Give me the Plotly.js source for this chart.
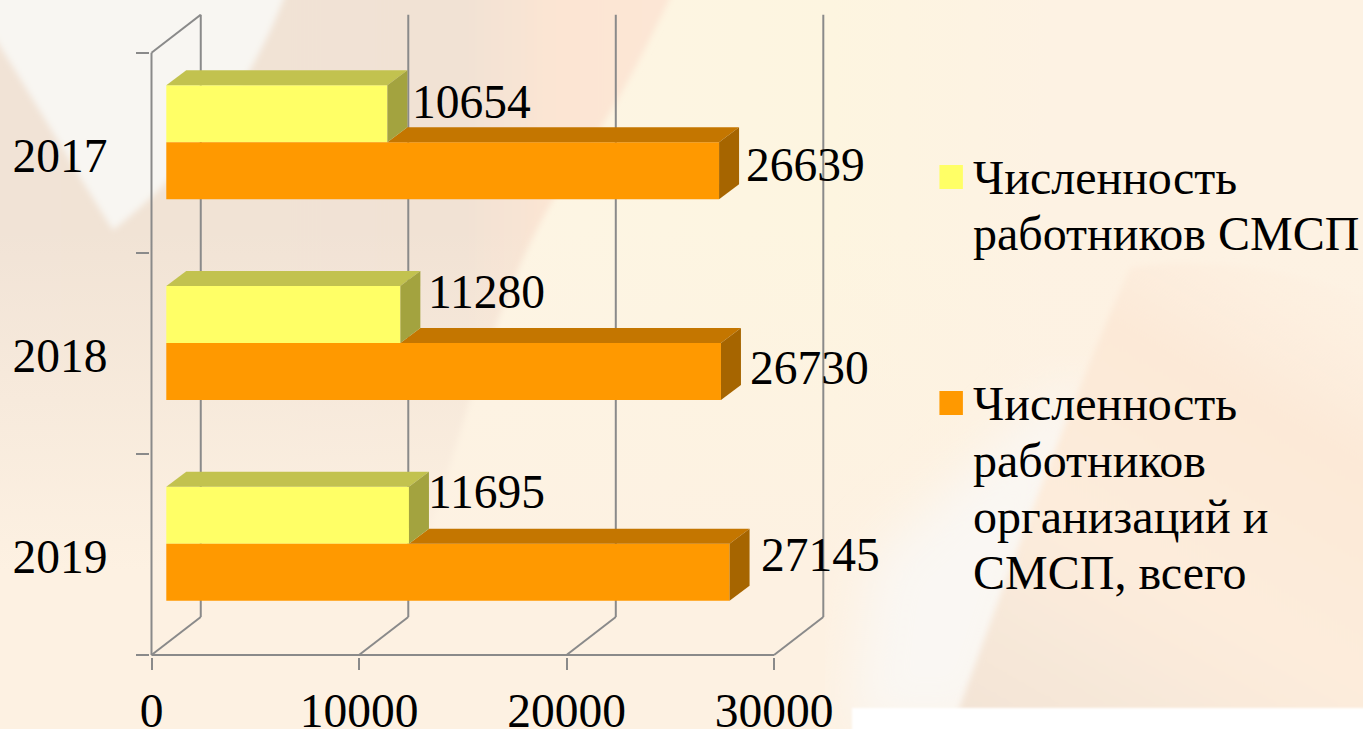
<!DOCTYPE html>
<html>
<head>
<meta charset="utf-8">
<script src="https://cdn.plot.ly/plotly-3.0.1.min.js"></script>
<style>
html,body{margin:0;padding:0;width:1363px;height:729px;overflow:hidden;background:#fdf1e2}
#bg{position:absolute;left:0;top:0}
#chart{position:absolute;left:0;top:0;width:1363px;height:729px}
</style>
</head>
<body>
<svg id="bg" width="1363" height="729" viewBox="0 0 1363 729">
<defs>
<linearGradient id="base" gradientUnits="userSpaceOnUse" x1="500" y1="0" x2="1050" y2="0">
<stop offset="0" stop-color="#fdf5e4"/><stop offset="0.6" stop-color="#fdf5e0"/><stop offset="1" stop-color="#fdf2e3"/>
</linearGradient>
<linearGradient id="tan" gradientUnits="userSpaceOnUse" x1="0" y1="0" x2="680" y2="0">
<stop offset="0" stop-color="#f1e3d6"/><stop offset="0.68" stop-color="#f1e2d4"/><stop offset="0.82" stop-color="#fce5d3"/><stop offset="1" stop-color="#fce6d5"/>
</linearGradient>
<linearGradient id="fade" gradientUnits="userSpaceOnUse" x1="0" y1="230" x2="0" y2="570">
<stop offset="0" stop-color="#fdf1e2" stop-opacity="0"/><stop offset="1" stop-color="#fdf1e2" stop-opacity="1"/>
</linearGradient>
<linearGradient id="peach" gradientUnits="userSpaceOnUse" x1="1300" y1="200" x2="1000" y2="729">
<stop offset="0.05" stop-color="#fdecdc" stop-opacity="0"/><stop offset="0.33" stop-color="#fce9d7" stop-opacity="1"/><stop offset="0.65" stop-color="#fdecdb"/><stop offset="0.85" stop-color="#f7e8d9"/><stop offset="1" stop-color="#f3e4d6"/>
</linearGradient>
<filter id="b1"><feGaussianBlur stdDeviation="1"/></filter>
<filter id="b3"><feGaussianBlur stdDeviation="3"/></filter>
<filter id="b25"><feGaussianBlur stdDeviation="25"/></filter>
</defs>
<rect width="1363" height="729" fill="url(#base)"/>
<path d="M-10 -10H674C640 60 612 117 553 200C530 240 509 283 470 400C440 500 400 620 380 740H-10Z" fill="url(#tan)" filter="url(#b3)"/>
<rect x="-10" y="230" width="1383" height="510" fill="url(#fade)"/>
<path d="M1060 390L870 560L850 729H990L1100 390Z" fill="#faf7f3" filter="url(#b25)"/>
<path d="M1130 268C1080 380 1020 540 958 712H1373V300C1300 270 1200 255 1130 268Z" fill="url(#peach)" filter="url(#b3)"/>
<path d="M-10 -10H287C262 60 205 160 113 230C75 170 40 110 -10 30Z" fill="#f8f6f2" filter="url(#b3)"/>
<rect x="852" y="708" width="520" height="30" fill="#ffffff" filter="url(#b1)"/>
</svg>
<div id="chart"></div>
<script>
var years = ['2017', '2018', '2019'];
var seriesSmall = [10654, 11280, 11695];
var seriesAll = [26639, 26730, 27145];
var linesSmall = ['Численность', 'работников СМСП'];
var linesAll = ['Численность', 'работников', 'организаций и', 'СМСП, всего'];
var xTicks = [0, 10000, 20000, 30000];

var W = 1363, H = 729;
var plotL = 149.5, plotR = 826, plotT = 14, plotB = 657;
var xZero = 151, xMaxPx = 774, yBandTop = 52.7, yBandBot = 655;
var unit = (xMaxPx - xZero) / 30000;
var band = (yBandBot - yBandTop) / 3;
function dxU(p) { return p / unit; }
function dyU(p) { return p / band; }
function pxX(p) { return (p - plotL) / (plotR - plotL); }
function pxY(p) { return (plotB - p) / (plotB - plotT); }

var wallDx = dxU(49.3), wallDy = dyU(38);
var barBase = dxU(14.8), depthX = dxU(20), depthY = dyU(15);
var barH = dyU(57);
var yC = years.map(function (_, i) { return i + dyU(142.3 - yBandTop); });
var frameColor = '#8a8a8a';

var colY = '#FFFF66', colYTop = '#C2C24F', colYSide = '#A3A33F';
var colO = '#FF9900', colOTop = '#C47600', colOSide = '#A66500';

function poly(xs, ys, color) {
  return { type: 'scatter', mode: 'lines', x: xs, y: ys, fill: 'toself', fillcolor: color,
           line: { width: 0, color: color }, hoverinfo: 'skip', showlegend: false };
}

var traces = [
  { type: 'bar', orientation: 'h', name: linesSmall.join(' '), y: yC, x: seriesSmall,
    base: years.map(function () { return barBase; }), marker: { color: colY }, showlegend: false },
  { type: 'bar', orientation: 'h', name: linesAll.join(' '), y: yC, x: seriesAll,
    base: years.map(function () { return barBase; }), marker: { color: colO }, showlegend: false }
];
years.forEach(function (_, i) {
  var topY = yC[i] - barH, midY = yC[i], botY = yC[i] + barH;
  var endY = barBase + seriesSmall[i], endO = barBase + seriesAll[i];
  traces.push(poly([endY, endY + depthX, endO + depthX, endO, endY],
                   [midY, midY - depthY, midY - depthY, midY, midY], colOTop));
  traces.push(poly([endO, endO + depthX, endO + depthX, endO, endO],
                   [midY, midY - depthY, botY - depthY, botY, midY], colOSide));
  traces.push(poly([barBase, barBase + depthX, endY + depthX, endY, barBase],
                   [topY, topY - depthY, topY - depthY, topY, topY], colYTop));
  traces.push(poly([endY, endY + depthX, endY + depthX, endY, endY],
                   [topY, topY - depthY, midY - depthY, midY, topY], colYSide));
});

var shapes = [];
function seg(x0, y0, x1, y1) {
  shapes.push({ type: 'line', xref: 'x', yref: 'y', layer: 'below', x0: x0, y0: y0, x1: x1, y1: y1,
                line: { color: frameColor, width: 2 } });
}
seg(0, 0, 0, 3);
seg(0, 3, 30000, 3);
seg(0, 0, wallDx, -wallDy);
xTicks.forEach(function (t) {
  seg(t, 3, t + wallDx, 3 - wallDy);
  seg(t + wallDx, 3 - wallDy, t + wallDx, -wallDy);
});
function legendBox(x0, x1, y0, y1, c) {
  shapes.push({ type: 'rect', xref: 'paper', yref: 'paper', x0: pxX(x0), x1: pxX(x1), y0: pxY(y1), y1: pxY(y0),
                fillcolor: c, line: { width: 0 } });
}
legendBox(939.5, 963, 165, 189, colY);
legendBox(939.5, 963, 391, 415, colO);

var serif = 'Liberation Serif, Times New Roman, serif';
var labelFont = { family: serif, size: 47.5, color: '#000000' };
var legendFont = { family: serif, size: 48, color: '#000000' };
var annotations = [];
var shiftSmall = [[4, 12], [7, 23], [-2, 23]];
var shiftAll = [[6, 6], [8, 4], [10, 17]];
years.forEach(function (_, i) {
  annotations.push({ xref: 'x', yref: 'y', x: barBase + seriesSmall[i] + depthX, y: yC[i] - barH / 2,
    text: String(seriesSmall[i]), showarrow: false, xanchor: 'left', yanchor: 'middle',
    xshift: shiftSmall[i][0], yshift: shiftSmall[i][1], font: labelFont, borderpad: 0 });
  annotations.push({ xref: 'x', yref: 'y', x: barBase + seriesAll[i] + depthX, y: yC[i] + barH / 2,
    text: String(seriesAll[i]), showarrow: false, xanchor: 'left', yanchor: 'middle',
    xshift: shiftAll[i][0], yshift: shiftAll[i][1], font: labelFont, borderpad: 0 });
});
function legendLines(lines, yPx) {
  lines.forEach(function (t, i) {
    annotations.push({ xref: 'paper', yref: 'paper', x: pxX(972.5), y: pxY(yPx[i]), text: t, showarrow: false,
      xanchor: 'left', yanchor: 'middle', align: 'left', font: legendFont, borderpad: 0 });
  });
}
legendLines(linesSmall, [177, 234]);
legendLines(linesAll, [403, 460, 516, 572]);

var layout = {
  width: W, height: H,
  margin: { l: plotL, r: W - plotR, t: plotT, b: H - plotB, pad: 0 },
  paper_bgcolor: 'rgba(0,0,0,0)', plot_bgcolor: 'rgba(0,0,0,0)',
  barmode: 'group', bargap: 1 - 2 * barH, bargroupgap: 0,
  showlegend: false,
  xaxis: { range: [(plotL - xZero) / unit, (plotR - xZero) / unit], tickmode: 'array', tickvals: xTicks, ticktext: xTicks.map(String),
           ticks: 'outside', ticklen: 12, tickwidth: 2, tickcolor: frameColor, showgrid: false, zeroline: false,
           showline: false, tickfont: labelFont, ticklabelstandoff: 0, automargin: false },
  yaxis: { range: [3 + dyU(plotB - yBandBot), -dyU(yBandTop - plotT)], tickmode: 'array',
           tickvals: [0, 1, 2].map(function (i) { return i + 0.5 + dyU(2); }), ticktext: years,
           ticks: 'outside', ticklen: 32, tickcolor: 'rgba(0,0,0,0)', showgrid: false, zeroline: false, showline: false,
           tickfont: labelFont, automargin: false,
           minor: { tickmode: 'array', tickvals: [0, 1, 2, 3], ticks: 'outside', ticklen: 13, tickwidth: 2, tickcolor: frameColor, showgrid: false } },
  shapes: shapes,
  annotations: annotations
};
Plotly.newPlot('chart', traces, layout, { displayModeBar: false, staticPlot: true });
</script>
</body>
</html>
